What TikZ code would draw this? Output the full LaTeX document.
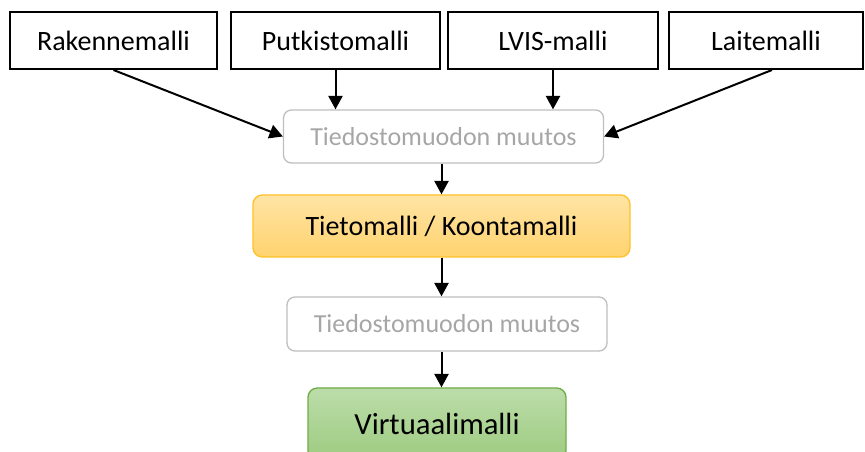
\documentclass[tikz,border=0pt]{standalone}
\usepackage{fontspec}
\setmainfont{Carlito}
\usepackage{tikz}
\usetikzlibrary{
  calc,
  positioning,
  arrows.meta,
  shapes
}
\definecolor{muutosgray}{RGB}{191,191,191}
\definecolor{muutostext}{RGB}{166,166,166}
\definecolor{orangetop}{RGB}{255,228,165}
\definecolor{orangebot}{RGB}{255,211,110}
\definecolor{orangeline}{RGB}{255,194,40}
\definecolor{greentop}{RGB}{188,221,170}
\definecolor{greenbot}{RGB}{157,203,128}
\definecolor{greenline}{RGB}{112,173,71}
\tikzset{
  malli/.style={draw=black, line width=1.5pt, minimum height=42.75pt, inner sep=0pt,
    font=\fontsize{21}{24}\selectfont},
  muutos/.style={draw=muutosgray, line width=1pt, rounded corners=6pt, inner sep=0pt,
    text=muutostext, minimum width=240pt, font=\fontsize{19.5}{22}\selectfont},
  flow/.style={->, line width=1.5pt}
}

\begin{document}
\begin{tikzpicture}[x=0.75pt,y=-0.75pt,>={Triangle[length=10pt,width=10.5pt]}]
      \useasboundingbox (0,0) rectangle (865,452);

      % source models
      \node[malli, minimum width=155.25pt] (rakenne) at (113.5,40.5) {Rakennemalli};
      \node[malli, minimum width=156.75pt] (putkisto) at (335.5,40.5) {Putkistomalli};
      \node[malli, minimum width=157.5pt] (lvis) at (553,40.5) {LVIS-malli};
      \node[malli, minimum width=145.5pt] (laite) at (766,40.5) {Laitemalli};

      % conversions + combined model
      \node[muutos, minimum height=39.75pt] (muutosA) at (443.5,136.5) {Tiedostomuodon muutos};
      \node[draw=orangeline, line width=1pt, rounded corners=7pt, top color=orangetop, bottom color=orangebot,
        minimum width=282.75pt, minimum height=46.5pt, font=\fontsize{21}{24}\selectfont] (tietomalli) at (441.5,226) {Tietomalli / Koontamalli};
      \node[muutos, minimum height=40.5pt] (muutosB) at (447,324) {Tiedostomuodon muutos};
      \node[draw=greenline, line width=1pt, rounded corners=7pt, top color=greentop, bottom color=greenbot,
        minimum width=193.5pt, minimum height=54pt, font=\fontsize{23}{26}\selectfont] (virtuaali) at (437,424) {Virtuaalimalli};

      % arrows into first conversion
      \draw[flow] (rakenne.south) -- (muutosA.west);
      \draw[flow] (putkisto.south) -- (putkisto.south |- muutosA.north);
      \draw[flow] (lvis.south) -- (lvis.south |- muutosA.north);
      \draw[flow] ($(laite.south)+(6,0)$) -- (muutosA.east);

      % downward chain
      \draw[flow] (muutosA.south -| tietomalli) -- (tietomalli.north);
      \draw[flow] (tietomalli.south) -- (tietomalli.south |- muutosB.north);
      \draw[flow] (muutosB.south -| tietomalli) -- (virtuaali.north -| tietomalli);
    \end{tikzpicture}
\end{document}
